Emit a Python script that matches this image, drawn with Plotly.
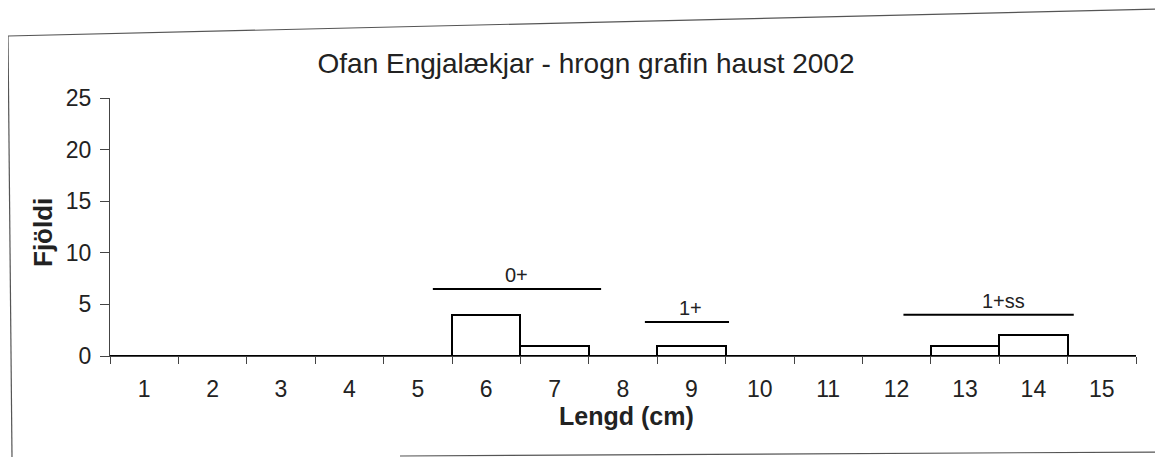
import plotly.graph_objects as go

# ---- data ----
lengths = [str(i) for i in range(1, 16)]
counts = [0, 0, 0, 0, 0, 4, 1, 0, 1, 0, 0, 0, 1, 2, 0]

group_labels = ["0+", "1+", "1+ss"]
group_start = [5.22, 8.32, 12.10]   # in length units (1 = centre of class "1")
group_end = [7.68, 9.55, 14.59]
group_level = [6.5, 3.3, 4.0]
label_pos = [6.45, 8.98, 13.56]

title_text = "Ofan Engjalækjar - hrogn grafin haust 2002"
x_title = "Lengd (cm)"
y_title = "Fjöldi"

# page body has an 8px margin: figure origin sits at (8, 8) of the window
OFF = 8
W, H = 1163 - OFF, 457 - OFF
# plot area in window pixels
PL, PR, PT, PB = 110, 1136, 98, 356
ML, MR, MT, MB = PL - OFF, W - (PR - OFF), PT - OFF, H - (PB - OFF)
PW, PH = PR - PL, PB - PT
FONT = "Liberation Sans, Arial, sans-serif"


def px(X):
    return (X - PL) / PW


def py(Y):
    return (PB - Y) / PH


fig = go.Figure()
fig.add_trace(go.Bar(
    x=lengths, y=counts,
    marker=dict(color="white", line=dict(color="black", width=2)),
    width=1.0, showlegend=False, hoverinfo="x+y",
))

shapes = []
annotations = []
for lab, s, e, lev, lp in zip(group_labels, group_start, group_end, group_level, label_pos):
    shapes.append(dict(type="line", xref="x", yref="y", x0=s - 1, x1=e - 1, y0=lev, y1=lev,
                       line=dict(color="black", width=2)))
    annotations.append(dict(x=lp - 1, y=lev, xref="x", yref="y", text=lab, showarrow=False,
                            xanchor="center", yanchor="bottom", yshift=1,
                            font=dict(family=FONT, size=20, color="#222")))

# scanned page border (window pixel coordinates)
border = [((8, 36), (1160, 9)), ((8, 36), (12, 457)), ((1160, 9), (1162, 440)), ((400, 456), (1163, 452))]
for (a, b) in border:
    shapes.append(dict(type="line", xref="paper", yref="paper",
                       x0=px(a[0]), x1=px(b[0]), y0=py(a[1]), y1=py(b[1]),
                       line=dict(color="#555", width=1.2)))

# axis titles
annotations.append(dict(x=px(43), y=py(233), xref="paper", yref="paper",
                        text="<b>%s</b>" % y_title, textangle=-90, showarrow=False,
                        xanchor="center", yanchor="middle",
                        font=dict(family=FONT, size=26, color="#222")))
annotations.append(dict(x=px(626), y=py(416), xref="paper", yref="paper",
                        text="<b>%s</b>" % x_title, showarrow=False,
                        xanchor="center", yanchor="middle",
                        font=dict(family=FONT, size=25, color="#222")))

fig.update_layout(
    width=W, height=H,
    margin=dict(l=ML, r=MR, t=MT, b=MB, autoexpand=False),
    paper_bgcolor="white", plot_bgcolor="white",
    bargap=0,
    title=dict(text=title_text, x=(586 - OFF) / W, xanchor="center",
               y=1 - (63 - OFF) / H, yanchor="middle",
               font=dict(family=FONT, size=28, color="#222")),
    xaxis=dict(type="category", categoryorder="array", categoryarray=lengths,
               tickson="boundaries", ticks="outside", ticklen=7, tickcolor="#444",
               showline=True, linecolor="#444", linewidth=1, showgrid=False, zeroline=False,
               tickfont=dict(family=FONT, size=23, color="#222"), ticklabelstandoff=12,
               range=[-0.5, 14.5]),
    yaxis=dict(range=[0, 25], tickvals=[0, 5, 10, 15, 20, 25], ticks="outside", ticklen=9,
               tickcolor="#444", showline=True, linecolor="#444", linewidth=1,
               showgrid=False, zeroline=False,
               tickfont=dict(family=FONT, size=23, color="#222"), ticklabelstandoff=4),
    shapes=shapes, annotations=annotations,
)

fig.write_html("out.html")
